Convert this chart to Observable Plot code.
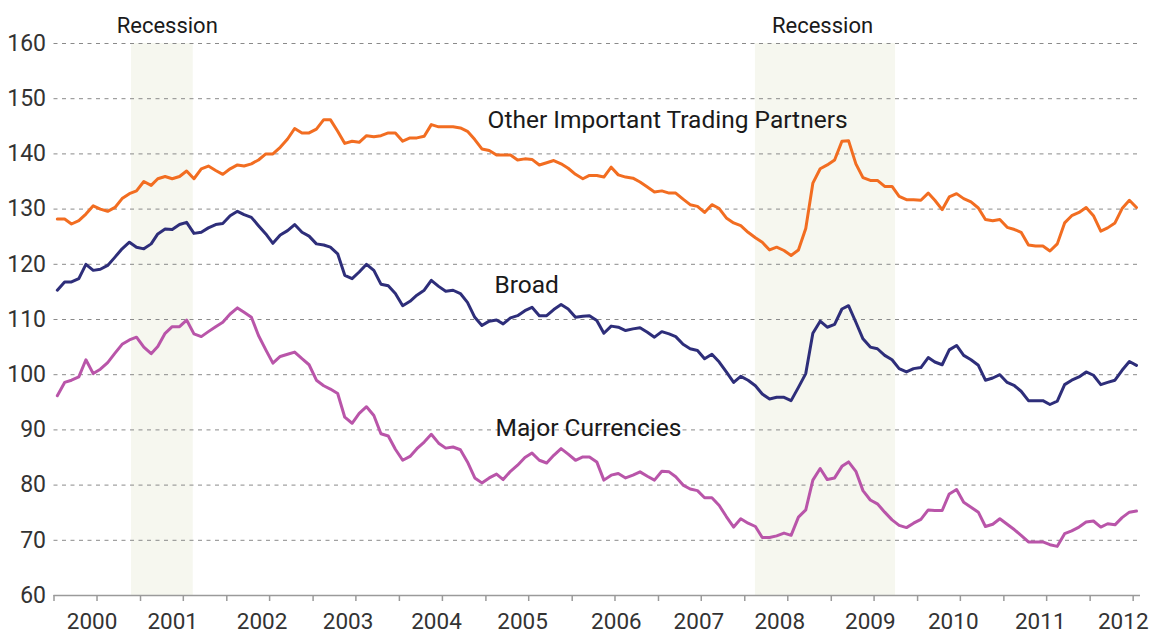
<!DOCTYPE html>
<html><head><meta charset="utf-8">
<script src="https://cdn.jsdelivr.net/npm/d3@7"></script>
<script src="https://cdn.jsdelivr.net/npm/@observablehq/plot@0.6"></script>
<style>
html,body{margin:0;padding:0;background:#fff;}
#chart svg{display:block;}
</style>
</head><body><div id="chart"></div>
<script>
// Monthly index values, Jan 2000 .. Jul 2012
const oitp = [
128.2,128.2,127.3,127.9,129.1,130.6,130.0,129.6,130.3,131.9,
132.8,133.3,135.0,134.3,135.5,135.9,135.5,135.9,136.9,135.5,
137.3,137.8,137.0,136.3,137.3,138.0,137.8,138.2,138.9,140.0,
140.0,141.2,142.7,144.6,143.8,143.8,144.5,146.2,146.2,144.1,
141.9,142.3,142.1,143.3,143.1,143.3,143.8,143.8,142.3,142.9,
142.9,143.2,145.3,144.9,144.9,144.9,144.7,144.1,142.6,140.9,
140.6,139.8,139.8,139.8,138.9,139.1,139.0,138.0,138.4,138.8,
138.2,137.4,136.3,135.5,136.1,136.1,135.8,137.6,136.2,135.8,
135.6,134.9,134.0,133.1,133.3,132.9,132.9,131.8,130.8,130.5,
129.4,130.8,130.1,128.4,127.5,127.0,125.8,124.8,124.0,122.6,
123.1,122.5,121.6,122.6,126.5,134.7,137.3,138.0,138.9,142.3,
142.4,138.2,135.7,135.2,135.2,134.1,134.1,132.3,131.7,131.7,
131.6,132.9,131.6,129.9,132.2,132.8,131.9,131.3,130.2,128.1,
127.9,128.1,126.7,126.3,125.8,123.5,123.3,123.3,122.4,123.7,
127.5,128.8,129.4,130.3,128.8,126.0,126.6,127.5,130.1,131.6,130.3
];
const broad = [
115.3,116.8,116.8,117.4,120.0,118.9,119.1,119.8,121.3,122.8,
124.0,123.1,122.8,123.7,125.5,126.4,126.3,127.2,127.6,125.6,
125.8,126.6,127.2,127.4,128.8,129.6,129.0,128.5,127.0,125.5,
123.8,125.3,126.1,127.2,125.8,125.1,123.7,123.5,123.1,121.9,
118.0,117.4,118.6,120.0,118.9,116.4,116.1,114.7,112.5,113.3,
114.4,115.3,117.1,116.0,115.1,115.3,114.7,113.1,110.4,108.9,
109.7,109.9,109.2,110.3,110.7,111.6,112.2,110.7,110.7,111.8,
112.7,111.9,110.4,110.6,110.7,109.8,107.5,108.8,108.6,108.0,
108.3,108.5,107.7,106.8,107.8,107.4,106.9,105.5,104.7,104.4,
102.9,103.7,102.3,100.5,98.6,99.7,99.0,98.0,96.5,95.6,
95.9,95.9,95.3,97.7,100.2,107.5,109.7,108.6,109.1,111.9,
112.5,109.5,106.5,105.0,104.7,103.5,102.7,101.1,100.5,101.1,
101.3,103.1,102.3,101.8,104.5,105.3,103.5,102.7,101.7,99.0,
99.4,100.0,98.6,98.0,97.0,95.3,95.3,95.3,94.6,95.2,
98.2,99.0,99.6,100.5,99.9,98.2,98.6,99.0,100.8,102.4,101.7
];
const major = [
96.2,98.6,99.0,99.6,102.7,100.2,101.0,102.2,103.9,105.5,
106.3,106.8,105.0,103.8,105.1,107.5,108.7,108.7,109.9,107.4,
106.9,107.8,108.7,109.5,111.0,112.1,111.3,110.4,107.1,104.5,
102.1,103.3,103.7,104.1,102.9,101.8,99.0,98.0,97.4,96.6,
92.3,91.2,93.0,94.2,92.6,89.3,88.9,86.5,84.5,85.2,
86.6,87.8,89.2,87.6,86.7,86.9,86.4,84.2,81.3,80.4,
81.3,82.0,81.0,82.5,83.6,85.0,85.8,84.5,84.0,85.4,
86.6,85.6,84.5,85.1,85.1,84.2,80.9,81.8,82.1,81.3,
81.8,82.4,81.6,80.9,82.5,82.4,81.5,80.0,79.3,79.0,
77.7,77.7,76.3,74.3,72.4,73.9,73.1,72.5,70.5,70.5,
70.8,71.3,70.9,74.2,75.5,80.9,83.0,81.0,81.3,83.4,
84.2,82.5,79.0,77.3,76.6,75.1,73.7,72.7,72.3,73.1,
73.8,75.5,75.4,75.4,78.4,79.2,76.9,76.0,75.1,72.5,
72.9,73.9,72.9,71.9,70.9,69.7,69.7,69.7,69.2,68.9,
71.2,71.7,72.4,73.3,73.5,72.4,73.0,72.8,74.1,75.1,75.3
];
const seriesNames = ["Other Important Trading Partners", "Broad", "Major Currencies"];
const seriesColors = ["#f26d21", "#2e2e7a", "#b955a9"];
const recessions = [
  {start: "2000-11-24", end: "2001-08-12"},
  {start: "2008-02-15", end: "2009-09-30"}
];
const recessionLabels = [
  {text: "Recession", date: "2001-04-24", value: 163.2},
  {text: "Recession", date: "2008-11-25", value: 163.2}
];
const seriesLabels = [
  {text: "Other Important Trading Partners", date: "2005-01-08", value: 146.2},
  {text: "Broad", date: "2005-02-06", value: 116.2},
  {text: "Major Currencies", date: "2005-02-11", value: 90.3}
];
const yearLabels = [2000,2001,2002,2003,2004,2005,2006,2007,2008,2009,2010,2011,2012];
const yearLabelDates = [
  "2000-06-10","2001-05-17","2002-05-30","2003-05-29","2004-06-06","2005-06-05","2006-07-07",
  "2007-06-21","2008-05-28","2009-06-15","2010-06-01","2011-06-04","2012-05-20"
];
const yTicks = [60,70,80,90,100,110,120,130,140,150,160];

const monthDate = i => new Date(Date.UTC(2000, i, 15));
const rows = [];
[oitp, broad, major].forEach((arr, s) =>
  arr.forEach((v, i) => rows.push({date: monthDate(i), value: v, series: seriesNames[s]})));

const xStart = new Date(Date.UTC(2000, 0, 1));
const xEnd = new Date(Date.UTC(2012, 7, 1));
const halfYearTicks = d3.utcMonth.every(6).range(xStart, xEnd);
const yearTickDates = yearLabelDates.map(s => new Date(s));
const yearByTime = new Map(yearTickDates.map((d, i) => [+d, yearLabels[i]]));

const font = "Roboto, 'Open Sans', sans-serif";

const chart = Plot.plot({
  width: 1150,
  height: 637,
  marginLeft: 53.5,
  marginRight: 10,
  marginTop: 43,
  marginBottom: 42,
  style: {fontFamily: font, background: "#fff", color: "#222", overflow: "visible"},
  x: {type: "utc", domain: [xStart, xEnd]},
  y: {domain: [60, 160]},
  color: {domain: seriesNames, range: seriesColors},
  marks: [
    Plot.rect(recessions, {
      x1: d => new Date(d.start), x2: d => new Date(d.end),
      y1: () => 60, y2: () => 160, fill: "#f6f7ef"
    }),
    Plot.ruleY(yTicks.filter(t => t > 60), {stroke: "#8a8a8a", strokeWidth: 1, strokeDasharray: "4,4.5"}),
    Plot.ruleY([60], {stroke: "#9a9a9a", strokeWidth: 1.5}),
    Plot.axisY({ticks: yTicks, tickSize: 0, tickPadding: 8, fontSize: 23, label: null, fill: "#333", tickFormat: d => d}),
    Plot.axisX({ticks: halfYearTicks, tickSize: 6, tickFormat: () => "", stroke: "#9a9a9a", strokeWidth: 1.5, label: null}),
    Plot.axisX({
      ticks: yearTickDates,
      tickSize: 0, tickPadding: 18, fontSize: 22.5, fill: "#333",
      tickFormat: d => String(yearByTime.get(+d)), label: null
    }),
    Plot.line(rows, {x: "date", y: "value", stroke: "series", z: "series", strokeWidth: 3}),
    Plot.text(seriesLabels, {
      x: d => new Date(d.date), y: "value", text: "text",
      textAnchor: "start", fontSize: 24.5, fill: "#1a1a1a"
    }),
    Plot.text(recessionLabels, {
      x: d => new Date(d.date), y: "value", text: "text",
      textAnchor: "middle", fontSize: 22, fill: "#1a1a1a"
    })
  ]
});
document.getElementById("chart").appendChild(chart);
</script>
</body></html>
